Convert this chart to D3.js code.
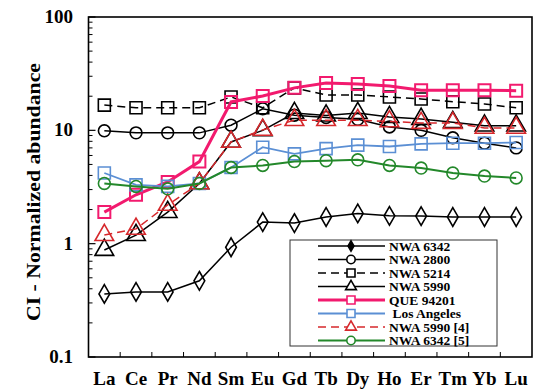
<!DOCTYPE html>
<html>
<head>
<meta charset="utf-8">
<script src="https://cdn.jsdelivr.net/npm/d3@7"></script>
<style>
  body { margin: 0; background: #fff; }
  text { font-family: "Liberation Serif", "DejaVu Serif", serif; font-weight: bold; }
</style>
</head>
<body>
<div id="chart"></div>
<script>
// REE pattern, CI-normalized
const elements = ["La","Ce","Pr","Nd","Sm","Eu","Gd","Tb","Dy","Ho","Er","Tm","Yb","Lu"];

const nwa6342    = [0.36, 0.375, 0.375, 0.47, 0.93, 1.55, 1.52, 1.72, 1.85, 1.76, 1.75, 1.72, 1.72, 1.72];
const nwa2800    = [9.9, 9.5, 9.5, 9.5, 11.1, 15.5, 13.6, 13.0, 12.5, 10.7, 10.0, 8.6, 7.7, 7.0];
const nwa5214    = [16.7, 15.8, 15.8, 15.8, 19.7, 15.8, 23.7, 20.5, 20.5, 19.7, 18.9, 17.9, 17.1, 15.8];
const nwa5990    = [0.88, 1.19, 1.9, 3.4, 7.9, 10.0, 14.2, 13.5, 14.2, 13.1, 12.6, 11.8, 11.0, 11.0];
const que94201   = [1.9, 2.7, 3.5, 5.3, 17.8, 20.1, 23.7, 26.2, 25.6, 24.6, 22.6, 22.6, 22.6, 22.4];
const losAngeles = [4.2, 3.3, 3.2, 3.4, 4.7, 7.1, 6.2, 6.9, 7.4, 7.2, 7.6, 7.7, 7.7, 7.8];
const nwa5990ref = [1.19, 1.35, 2.2, 3.4, 7.9, 10.1, 12.3, 12.3, 12.3, 12.0, 11.6, 11.6, 10.5, 10.5];
const nwa6342ref = [3.4, 3.2, 3.05, 3.4, 4.7, 4.9, 5.3, 5.4, 5.5, 4.9, 4.65, 4.2, 3.95, 3.8];

const seriesNames = ["NWA 6342","NWA 2800","NWA 5214","NWA 5990","QUE 94201"," Los Angeles","NWA 5990 [4]","NWA 6342 [5]"];
const yTicks = [0.1, 1, 10, 100];

// styling per series
const styles = [
  {color: "#000", width: 1.5, dash: null,  shape: d3.symbolDiamond,  size: 100, legSize: 30},
  {color: "#000", width: 1.5, dash: null,  shape: d3.symbolCircle,   size: 110, legSize: 55},
  {color: "#000", width: 1.5, dash: "8,5", shape: d3.symbolSquare,   size: 144, legSize: 64},
  {color: "#000", width: 1.5, dash: null,  shape: d3.symbolTriangle, size: 150, legSize: 50},
  {color: "#f21a6e", width: 3, dash: null, shape: d3.symbolSquare,   size: 144, legSize: 64},
  {color: "#5b8fd4", width: 1.8, dash: null, shape: d3.symbolSquare, size: 144, legSize: 64},
  {color: "#d6282c", width: 1.5, dash: "8,5", shape: d3.symbolTriangle, size: 150, legSize: 50},
  {color: "#23882a", width: 2, dash: null,  shape: d3.symbolCircle,   size: 110, legSize: 55}
];
const allSeries = [nwa6342, nwa2800, nwa5214, nwa5990, que94201, losAngeles, nwa5990ref, nwa6342ref];

const canvas_width = 534, canvas_height = 389;
const plotLeft = 88.5, plotRight = 532, plotTop = 17, plotBottom = 357;

const svg = d3.select("#chart").append("svg")
  .attr("width", canvas_width)
  .attr("height", canvas_height);

const x = d3.scaleBand()
  .domain(elements)
  .range([plotLeft, plotRight])
  .padding(0);
const cx = d => x(d) + x.bandwidth() / 2;

const y = d3.scaleLog()
  .domain([0.1, 100])
  .range([plotBottom, plotTop]);

// y axis minor ticks, pointing inward
const minor = [];
[0.1, 1, 10].forEach(dec => {
  for (let k = 2; k <= 9; k++) minor.push(dec * k);
});
svg.append("g")
  .selectAll("line")
  .data(minor)
  .join("line")
    .attr("x1", plotLeft).attr("x2", plotLeft + 4)
    .attr("y1", d => y(d)).attr("y2", d => y(d))
    .attr("stroke", "#000").attr("stroke-width", 1);
svg.append("g")
  .selectAll("line")
  .data(yTicks)
  .join("line")
    .attr("x1", plotLeft).attr("x2", plotLeft + 7)
    .attr("y1", d => y(d)).attr("y2", d => y(d))
    .attr("stroke", "#000").attr("stroke-width", 1.2);
svg.append("g")
  .selectAll("text")
  .data(yTicks)
  .join("text")
    .attr("x", 73)
    .attr("y", d => y(d) + 6)
    .attr("text-anchor", "end")
    .attr("font-size", 19)
    .text(d => d3.format("~g")(d));

// x ticks at band boundaries, pointing up
svg.append("g")
  .selectAll("line")
  .data(elements.slice(1))
  .join("line")
    .attr("x1", d => x(d)).attr("x2", d => x(d))
    .attr("y1", plotBottom).attr("y2", plotBottom - 5)
    .attr("stroke", "#000").attr("stroke-width", 1);
svg.append("g")
  .selectAll("text")
  .data(elements)
  .join("text")
    .attr("x", d => cx(d))
    .attr("y", 385)
    .attr("text-anchor", "middle")
    .attr("font-size", 19)
    .text(d => d);

// y label
svg.append("text")
  .attr("transform", "translate(40,192) rotate(-90)")
  .attr("text-anchor", "middle")
  .attr("font-size", 18)
  .attr("textLength", 258)
  .attr("lengthAdjust", "spacingAndGlyphs")
  .text("CI - Normalized abundance");

// the data
const line = d3.line()
  .x((d, i) => cx(elements[i]))
  .y(d => y(d));

allSeries.forEach((vals, s) => {
  const st = styles[s];
  const g = svg.append("g");
  g.append("path")
    .datum(vals)
    .attr("fill", "none")
    .attr("stroke", st.color)
    .attr("stroke-width", st.width)
    .attr("stroke-dasharray", st.dash)
    .attr("d", line);
  g.selectAll("path.m")
    .data(vals)
    .join("path")
      .attr("class", "m")
      .attr("transform", (d, i) => "translate(" + cx(elements[i]) + "," + y(d) + ")")
      .attr("d", d3.symbol().type(st.shape).size(st.size))
      .attr("fill", "none")
      .attr("stroke", st.color)
      .attr("stroke-width", s == 4 ? 2 : 1.6);
});

// frame
svg.append("rect")
  .attr("x", plotLeft).attr("y", plotTop)
  .attr("width", plotRight - plotLeft).attr("height", plotBottom - plotTop)
  .attr("fill", "none")
  .attr("stroke", "#000")
  .attr("stroke-width", 1.6);

// legend
const leg = svg.append("g");
leg.append("rect")
  .attr("x", 290).attr("y", 240)
  .attr("width", 207).attr("height", 106)
  .attr("fill", "#fff")
  .attr("stroke", "#333")
  .attr("stroke-width", 1);
seriesNames.forEach((name, s) => {
  const st = styles[s];
  const ly = 246 + s * 13.5;
  leg.append("line")
    .attr("x1", 318).attr("x2", 385)
    .attr("y1", ly).attr("y2", ly)
    .attr("stroke", st.color)
    .attr("stroke-width", st.width)
    .attr("stroke-dasharray", st.dash);
  leg.append("path")
    .attr("transform", "translate(351," + ly + ")")
    .attr("d", d3.symbol().type(st.shape).size(st.legSize))
    .attr("fill", s == 0 ? "#000" : "#fff")
    .attr("stroke", st.color)
    .attr("stroke-width", 1.6);
  leg.append("text")
    .attr("x", 389)
    .attr("y", ly + 4.5)
    .attr("font-size", 13.5)
    .style("white-space", "pre")
    .text(name);
});
</script>
</body>
</html>
